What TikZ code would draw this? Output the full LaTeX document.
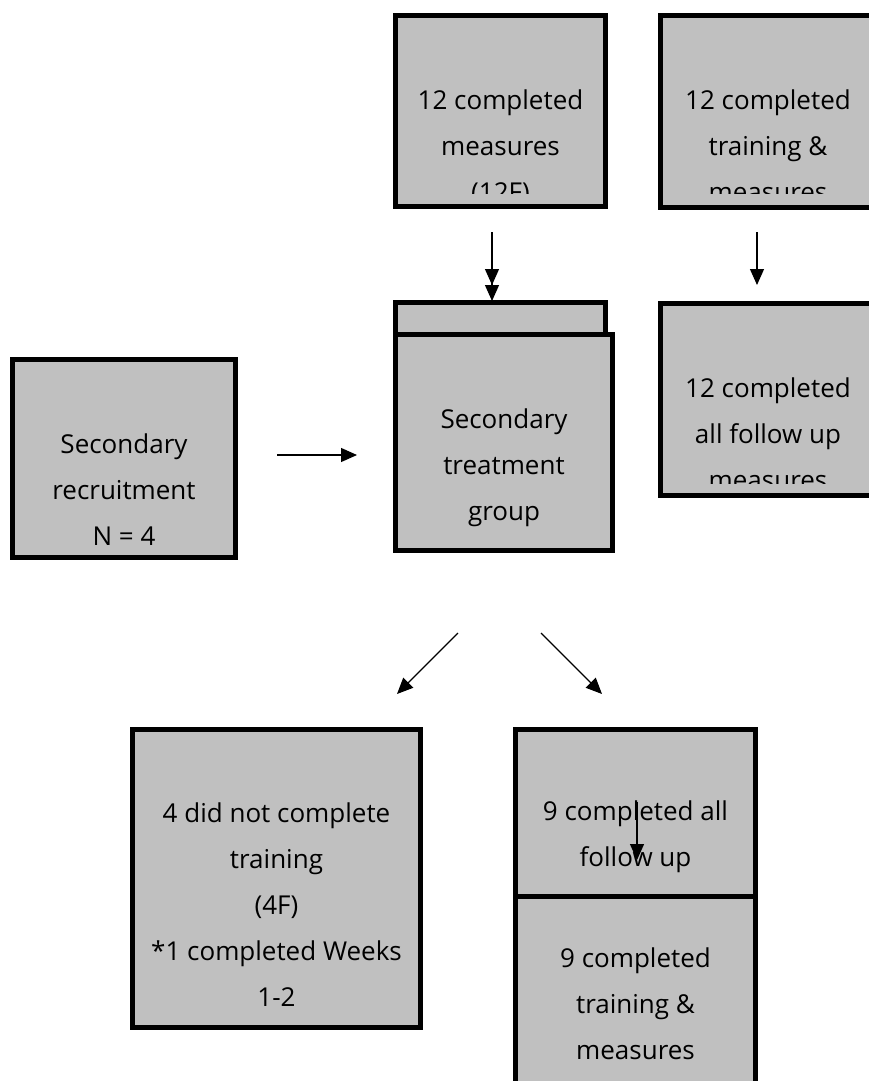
\documentclass[tikz,border=0pt]{standalone}
\usepackage{fontspec}
\setmainfont{Open Sans}
\usetikzlibrary{arrows.meta}
\definecolor{boxgray}{RGB}{192,192,192}
\tikzset{
  fbox/.style  ={rectangle, draw=black, fill=boxgray, line width=5pt,
                 inner sep=0pt, outer sep=0pt},
  ftext/.style ={align=center, inner sep=0pt, anchor=base,
                 font=\fontsize{26}{46}\selectfont},
  farrow/.style={-{Triangle[length=16pt,width=14pt]}, line width=1.2pt},
  fdouble/.style={-{Triangle[length=16pt,width=14pt]Triangle[length=16pt,width=14pt]},
                  line width=1.2pt},
}

\begin{document}
\begin{tikzpicture}[x=1pt,y=-1pt]
  \clip (0,0) rectangle (869,1081);

  % ---- top row (text anchored at its last baseline) ---------------------
  \node[fbox, minimum width=210pt, minimum height=191pt] (meas) at (500.5,111) {};
  \node[fbox, minimum width=215pt, minimum height=192pt] (trainmeas) at (768,111.5) {};
  \begin{scope}
    \clip (398,18) rectangle (603,193);
    \node[ftext] (measT) at (500.5,201) {12 completed\\measures\\(12F)};
  \end{scope}
  \begin{scope}
    \clip (663,18) rectangle (869,193);
    \node[ftext] (trainmeasT) at (768,201) {12 completed\\training \&\\measures};
  \end{scope}

  % ---- middle row -------------------------------------------------------
  \node[fbox, minimum width=223pt, minimum height=198pt] (recruit) at (124,458.5) {};
  \node[ftext] (recruitT) at (124,545) {Secondary\\recruitment\\N = 4};

  \node[fbox, minimum width=210pt, minimum height=35pt] (treatback) at (500.5,320) {};
  \node[fbox, minimum width=217pt, minimum height=216pt] (treat) at (504,442.5) {};
  \node[ftext] (treatT) at (504,520) {Secondary\\treatment\\group};

  \node[fbox, minimum width=215pt, minimum height=192pt] (follow) at (768,399.5) {};
  \begin{scope}
    \clip (663,306) rectangle (869,483);
    \node[ftext] (followT) at (768,489) {12 completed\\all follow up\\measures};
  \end{scope}

  % ---- bottom row -------------------------------------------------------
  \node[fbox, minimum width=288pt, minimum height=298pt] (notdone) at (276.5,878.5) {};
  \node[ftext] (notdoneT) at (276.5,1006)
    {4 did not complete\\training\\(4F)\\*1 completed Weeks\\1-2};

  \node[fbox, minimum width=240pt, minimum height=167pt] (allfollow) at (635.5,813) {};
  \node[fbox, minimum width=240pt, minimum height=223pt] (ninetrain) at (635.5,1008) {};
  \node[ftext] (allfollowT) at (635.5,866) {9 completed all\\follow up};
  \node[ftext] (ninetrainT) at (635.5,1059) {9 completed\\training \&\\measures};

  % ---- arrows -----------------------------------------------------------
  \coordinate (a1) at (492,232);  \coordinate (a2) at (492,301);
  \coordinate (b1) at (757,232);  \coordinate (b2) at (757,285);
  \coordinate (r1) at (277,455);  \coordinate (r2) at (357,455);
  \coordinate (l1) at (458,633);  \coordinate (l2) at (397,694);
  \coordinate (k1) at (541,633);  \coordinate (k2) at (602,694);
  \coordinate (g1) at (637,802);  \coordinate (g2) at (637,860);
  \draw[fdouble] (a1) -- (a2);
  \draw[farrow] (b1) -- (b2);
  \draw[farrow] (r1) -- (r2);
  \draw[farrow] (l1) -- (l2);
  \draw[farrow] (k1) -- (k2);
  \draw[farrow] (g1) -- (g2);
\end{tikzpicture}
\end{document}
